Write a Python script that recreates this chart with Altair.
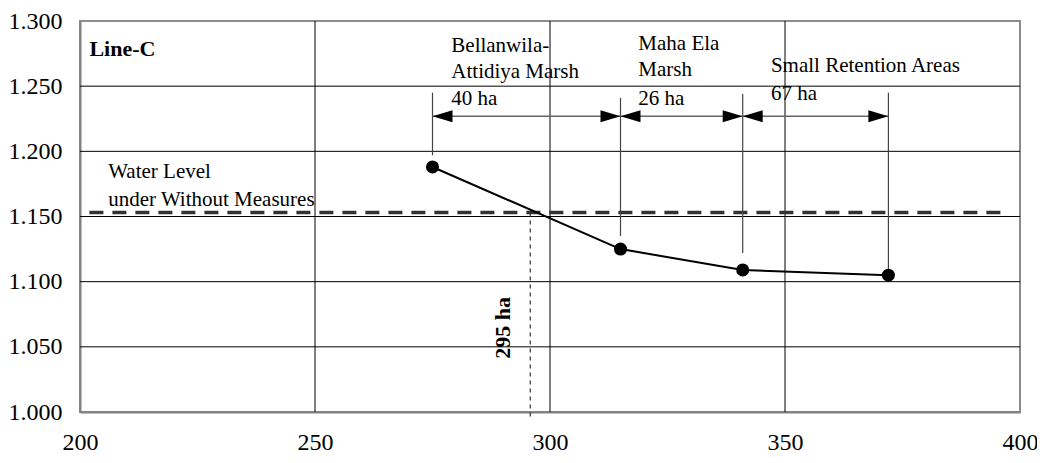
import altair as alt
import pandas as pd

# --- data ---
area_ha = [275, 315, 341, 372]
water_level = [1.188, 1.125, 1.109, 1.105]

baseline_level = 1.153
baseline_x = [202, 396]
intersect_x = 295.8
intersect_bottom = 0.996

leader_top = [1.245, 1.241, 1.244, 1.245]
leader_bottom = [1.197, 1.135, 1.122, 1.107]

arrow_level = 1.227
arrow_from = [275, 315, 341]
arrow_to = [315, 341, 372]

label_lines = ["Bellanwila-", "Attidiya Marsh", "40 ha",
               "Maha Ela", "Marsh", "26 ha",
               "Small Retention Areas", "67 ha"]
label_x = [279, 279, 279, 318.8, 318.8, 318.8, 347, 347]
label_y = [1.2806, 1.2607, 1.2398, 1.2826, 1.2622, 1.2405, 1.2653, 1.2441]

wl_lines = ["Water Level", "under Without Measures"]
wl_x = [206, 206]
wl_y = [1.184, 1.1627]

title_text = "Line-C"
title_x, title_y = 202, 1.2785
area_text = "295 ha"
area_text_x, area_text_y = 290.1, 1.0646

x_ticks = [200, 250, 300, 350, 400]
y_ticks = [1.000, 1.050, 1.100, 1.150, 1.200, 1.250, 1.300]
x_grid = [250, 300, 350]
y_grid = [1.050, 1.100, 1.150, 1.200, 1.250]

FONT = "Liberation Serif"

xs = alt.Scale(domain=[200, 400], nice=False, zero=False)
ys = alt.Scale(domain=[1.0, 1.3], nice=False, zero=False)

X = lambda f: alt.X(f, type="quantitative", scale=xs,
                    axis=alt.Axis(values=x_ticks, format="d", title=None, grid=False,
                                  ticks=False, labelFont=FONT, labelFontSize=24,
                                  labelColor="black", labelPadding=18, labelFlush=False,
                                  labelOverlap=False, domainColor="#808080", domainWidth=2))
Y = lambda f: alt.Y(f, type="quantitative", scale=ys,
                    axis=alt.Axis(values=y_ticks, format=".3f", title=None, grid=False,
                                  ticks=False, labelFont=FONT, labelFontSize=24,
                                  labelColor="black", labelPadding=18,
                                  labelOverlap=False, domainColor="#808080", domainWidth=2))

# grid
gx = alt.Chart(pd.DataFrame({"x": x_grid})).mark_rule(color="black", strokeWidth=1).encode(x=X("x"))
gy = alt.Chart(pd.DataFrame({"y": y_grid})).mark_rule(color="black", strokeWidth=1).encode(y=Y("y"))

# baseline dashed
base_df = pd.DataFrame({"x": [baseline_x[0]], "x2": [baseline_x[1]], "y": [baseline_level]})
base = alt.Chart(base_df).mark_rule(color="#333333", strokeWidth=3.5, strokeDash=[14, 9]).encode(
    x=X("x"), x2="x2", y=Y("y"))

# intersect dotted vertical
inter_df = pd.DataFrame({"x": [intersect_x], "y": [baseline_level], "y2": [intersect_bottom]})
inter = alt.Chart(inter_df).mark_rule(color="#333333", strokeWidth=1.2, strokeDash=[4, 4]).encode(
    x=X("x"), y=Y("y"), y2="y2")

# leaders
lead_df = pd.DataFrame({"x": area_ha, "y": leader_top, "y2": leader_bottom})
lead = alt.Chart(lead_df).mark_rule(color="#444444", strokeWidth=1.2).encode(
    x=X("x"), y=Y("y"), y2="y2")

# arrows
arr_df = pd.DataFrame({"x": arrow_from, "x2": arrow_to, "y": [arrow_level] * len(arrow_from)})
shaft = alt.Chart(arr_df).mark_rule(color="#666666", strokeWidth=1.5).encode(
    x=X("x"), x2="x2", y=Y("y"))
head_l = alt.Chart(arr_df).mark_point(
    shape="M 0 0 L 2 -0.6 L 2 0.6 Z", size=400, filled=True, color="black", opacity=1
).encode(x=X("x"), y=Y("y"))
head_r = alt.Chart(arr_df).mark_point(
    shape="M 0 0 L -2 -0.6 L -2 0.6 Z", size=400, filled=True, color="black", opacity=1
).encode(x=X("x2"), y=Y("y"))

# series
ser_df = pd.DataFrame({"x": area_ha, "y": water_level})
line = alt.Chart(ser_df).mark_line(color="black", strokeWidth=2).encode(x=X("x"), y=Y("y"))
pts = alt.Chart(ser_df).mark_circle(color="black", size=170, opacity=1).encode(x=X("x"), y=Y("y"))

# texts
lab_df = pd.DataFrame({"x": label_x, "y": label_y, "t": label_lines})
labs = alt.Chart(lab_df).mark_text(align="left", baseline="middle", font=FONT, fontSize=21,
                                   color="black").encode(x=X("x"), y=Y("y"), text="t")
wl_df = pd.DataFrame({"x": wl_x, "y": wl_y, "t": wl_lines})
wls = alt.Chart(wl_df).mark_text(align="left", baseline="middle", font=FONT, fontSize=21,
                                 color="black").encode(x=X("x"), y=Y("y"), text="t")
ttl = alt.Chart(pd.DataFrame({"x": [title_x], "y": [title_y], "t": [title_text]})).mark_text(
    align="left", baseline="middle", font=FONT, fontSize=22, fontWeight="bold", color="black"
).encode(x=X("x"), y=Y("y"), text="t")
aha = alt.Chart(pd.DataFrame({"x": [area_text_x], "y": [area_text_y], "t": [area_text]})).mark_text(
    align="center", baseline="middle", angle=270, font=FONT, fontSize=22, fontWeight="bold", color="black"
).encode(x=X("x"), y=Y("y"), text="t")

chart = alt.layer(gx, gy, base, inter, lead, shaft, head_l, head_r, line, pts, labs, wls, ttl, aha).properties(
    width=940, height=391,
    autosize=alt.AutoSizeParams(type="none"),
    padding={"left": 72, "top": 13, "right": 17, "bottom": 43},
    background="white",
).configure_view(stroke="#8c8c8c", strokeWidth=2)

chart.save("out.html", embed_options={"renderer": "svg", "actions": False})
